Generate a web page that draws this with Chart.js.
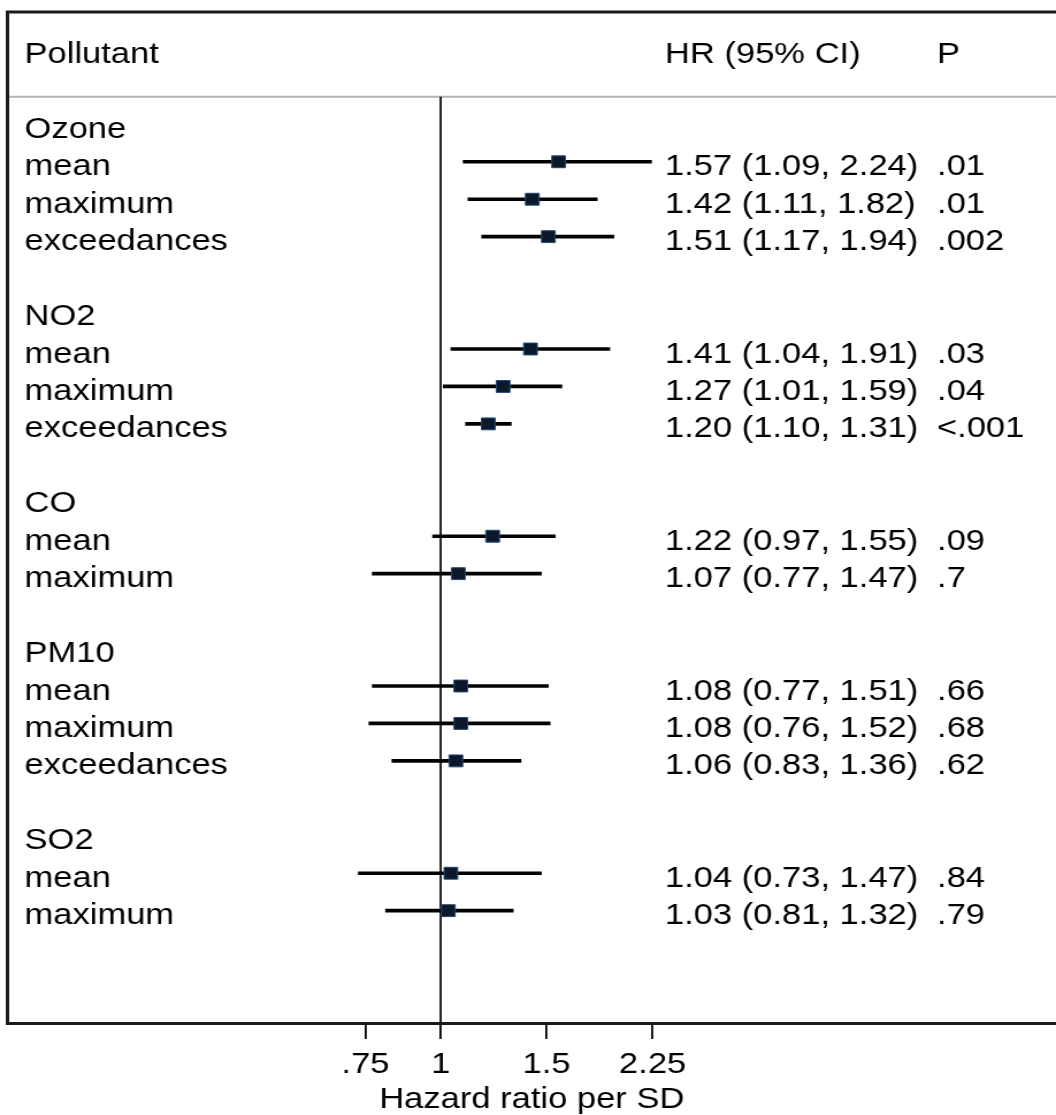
<!DOCTYPE html>
<html>
<head>
<meta charset="utf-8">
<title>Hazard ratio per SD</title>
<script src="https://cdn.jsdelivr.net/npm/chart.js@4.4.1/dist/chart.umd.min.js"></script>
<style>
    html, body { margin: 0; padding: 0; background: #fff; }
    #forest { display: block; }
</style>
</head>
<body>
<!-- the lettering of the original is a bit wide, so the canvas is drawn narrower and stretched sideways -->
<canvas id="forest" width="918" height="1115" style="width:1056px;height:1115px"></canvas>
<script>
// --- data ---
const groups = ['Ozone', 'NO2', 'CO', 'PM10', 'SO2'];
const groupRows = [0, 5, 10, 14, 19];

const measures = ['mean', 'maximum', 'exceedances',
                  'mean', 'maximum', 'exceedances',
                  'mean', 'maximum',
                  'mean', 'maximum', 'exceedances',
                  'mean', 'maximum'];
const measureRows = [1, 2, 3, 6, 7, 8, 11, 12, 15, 16, 17, 20, 21];

const hr    = [1.57, 1.42, 1.51, 1.41, 1.27, 1.20, 1.22, 1.07, 1.08, 1.08, 1.06, 1.04, 1.03];
const lower = [1.09, 1.11, 1.17, 1.04, 1.01, 1.10, 0.97, 0.77, 0.77, 0.76, 0.83, 0.73, 0.81];
const upper = [2.24, 1.82, 1.94, 1.91, 1.59, 1.31, 1.55, 1.47, 1.51, 1.52, 1.36, 1.47, 1.32];
const pValues = ['.01', '.01', '.002', '.03', '.04', '<.001', '.09', '.7', '.66', '.68', '.62', '.84', '.79'];

const tickValues = [0.75, 1, 1.5, 2.25];
const tickLabels = ['.75', '1', '1.5', '2.25'];

// --- layout (page pixels) ---
const STRETCH = 1056 / 918;
const FONT = '"Liberation Sans", Arial, Helvetica, sans-serif';
const headerRow = -2;
const headerLineRow = -0.735;
const colLabel = 24.5, colHR = 665, colP = 937;

Chart.defaults.font.family = FONT;
Chart.defaults.color = '#000';

const ciBars = measureRows.map((r, i) => ({ x: [lower[i], upper[i]], y: r }));
const points = measureRows.map((r, i) => ({ x: hr[i], y: r }));

const frameAndText = {
    id: 'frameAndText',
    beforeDatasetsDraw(chart) {
        const { ctx, chartArea } = chart;
        const y = chart.scales.y;
        ctx.save();
        // light separator under the header
        ctx.strokeStyle = '#b4b4b4';
        ctx.lineWidth = 2;
        ctx.beginPath();
        ctx.moveTo(chartArea.left, y.getPixelForValue(headerLineRow));
        ctx.lineTo(chartArea.right, y.getPixelForValue(headerLineRow));
        ctx.stroke();
        // box: top and left sides (bottom is the x axis)
        ctx.strokeStyle = '#1a1a1a';
        ctx.lineWidth = 3;
        ctx.beginPath();
        ctx.moveTo(chartArea.right + 2, chartArea.top);
        ctx.lineTo(chartArea.left, chartArea.top);
        ctx.lineTo(chartArea.left, chartArea.bottom);
        ctx.stroke();
        ctx.restore();
    },
    afterDraw(chart) {
        const { ctx } = chart;
        const y = chart.scales.y;
        const base = r => y.getPixelForValue(r) + 13.5;
        ctx.save();
        ctx.fillStyle = '#000';
        ctx.font = '30px ' + FONT;
        ctx.textAlign = 'left';
        ctx.textBaseline = 'alphabetic';

        ctx.fillText('Pollutant', colLabel / STRETCH, base(headerRow));
        ctx.fillText('HR (95% CI)', colHR / STRETCH, base(headerRow));
        ctx.fillText('P', colP / STRETCH, base(headerRow));

        groups.forEach((g, i) => ctx.fillText(g, colLabel / STRETCH, base(groupRows[i])));
        measures.forEach((m, i) => {
            const yy = base(measureRows[i]);
            ctx.fillText(m, colLabel / STRETCH, yy);
            const txt = `${hr[i].toFixed(2)} (${lower[i].toFixed(2)}, ${upper[i].toFixed(2)})`;
            ctx.fillText(txt, colHR / STRETCH, yy);
            ctx.fillText(pValues[i], colP / STRETCH, yy);
        });
        ctx.restore();
    }
};

new Chart(document.getElementById('forest'), {
    type: 'scatter',
    data: {
        datasets: [
            {
                type: 'scatter',
                label: 'HR',
                data: points,
                pointStyle: 'rect',
                pointRadius: 8.4,
                backgroundColor: '#0c1829',
                borderColor: '#1f4a75',
                borderWidth: 1
            },
            {
                type: 'bar',
                label: '95% CI',
                indexAxis: 'y',
                data: ciBars,
                barThickness: 3,
                backgroundColor: '#000',
                borderWidth: 0
            },
            {
                type: 'line',
                label: 'null',
                data: [{ x: 1, y: headerLineRow }, { x: 1, y: 24 }],
                borderColor: '#000',
                borderWidth: 1.7,
                pointRadius: 0
            }
        ]
    },
    options: {
        responsive: false,
        devicePixelRatio: 1,
        animation: false,
        layout: { autoPadding: false, padding: { left: 7.5 / STRETCH, right: 0, top: 12, bottom: 0 } },
        plugins: { legend: { display: false }, tooltip: { enabled: false } },
        scales: {
            x: {
                type: 'logarithmic',
                position: 'bottom',
                offset: false,
                min: 0.1907,
                max: 10.53,
                afterBuildTicks: axis => { axis.ticks = tickValues.map(v => ({ value: v })); },
                ticks: {
                    autoSkip: false,
                    maxRotation: 0,
                    padding: 7.5,
                    color: '#000',
                    font: { size: 30 },
                    callback: (value, index) => tickLabels[index]
                },
                grid: { offset: false, drawOnChartArea: false, drawTicks: true, tickLength: 16, color: '#000', lineWidth: 1.8 },
                border: { display: true, color: '#1a1a1a', width: 3 },
                title: {
                    display: true,
                    text: 'Hazard ratio per SD',
                    color: '#000',
                    font: { size: 30, lineHeight: 0.6333 },
                    padding: { top: 0, bottom: 6 }
                }
            },
            y: {
                type: 'linear',
                reverse: true,
                offset: false,
                grid: { offset: false },
                min: -3,
                max: 24,
                display: false
            }
        }
    },
    plugins: [frameAndText]
});
</script>
</body>
</html>
